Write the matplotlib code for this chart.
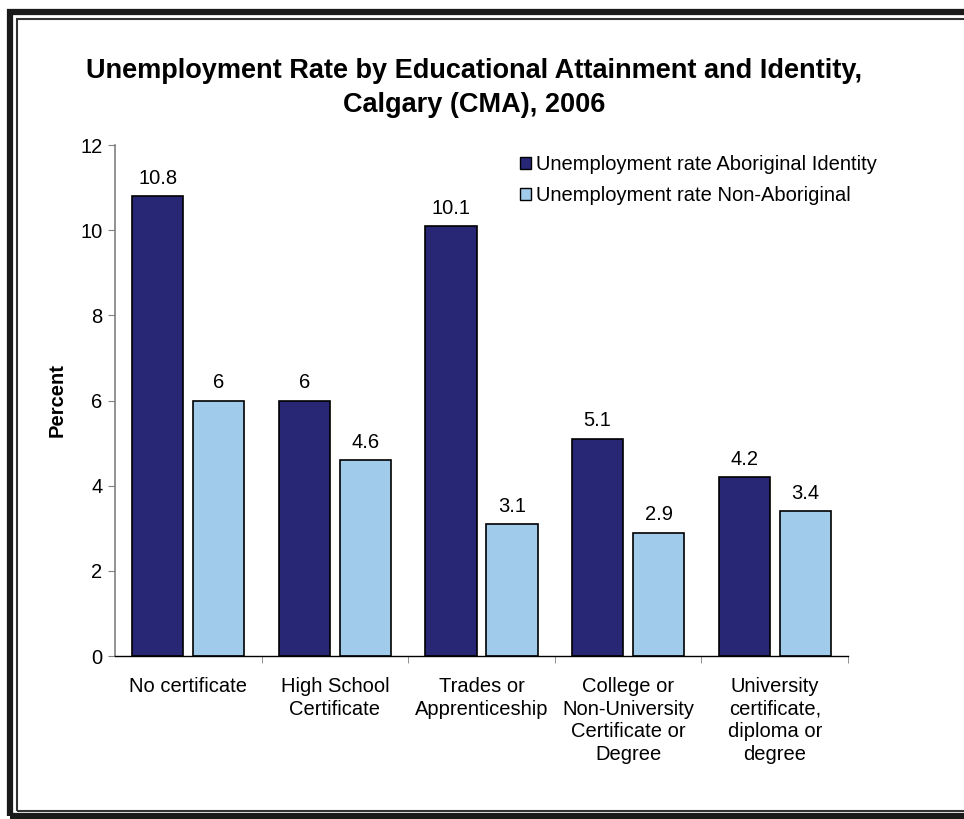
import matplotlib
matplotlib.use("Agg")
import matplotlib.pyplot as plt
import matplotlib.patches as mpatches
import numpy as np

# ===============================
#  DATA
# ===============================
categories = [
    "No certificate",
    "High School\nCertificate",
    "Trades or\nApprenticeship",
    "College or\nNon-University\nCertificate or\nDegree",
    "University\ncertificate,\ndiploma or\ndegree",
]
aboriginal = [10.8, 6, 10.1, 5.1, 4.2]
non_aboriginal = [6, 4.6, 3.1, 2.9, 3.4]
series_names = ["Unemployment rate Aboriginal Identity",
                "Unemployment rate Non-Aboriginal"]
y_ticks = [0, 2, 4, 6, 8, 10, 12]

# ===============================
#  STYLE
# ===============================
plt.rcParams['font.family'] = ['Liberation Sans', 'DejaVu Sans']
dark = "#272775"
light = "#A1CBEA"
spine_col = "#808080"
fs = 14.5

fig = plt.figure(figsize=(9.64, 8.19), dpi=100)
ax = fig.add_axes([115/964, 1 - 656/819, (848 - 115)/964, (656 - 145)/819])

x = np.arange(len(categories))
w = 0.348
off = 0.208

b1 = ax.bar(x - off, aboriginal, w, color=dark, edgecolor="black", linewidth=1.2)
b2 = ax.bar(x + off, non_aboriginal, w, color=light, edgecolor="black", linewidth=1.2)

for bars, vals in [(b1, aboriginal), (b2, non_aboriginal)]:
    for r, v in zip(bars, vals):
        ax.annotate(f"{v:g}", (r.get_x() + r.get_width()/2, v),
                    xytext=(0, 6), textcoords="offset points",
                    ha="center", va="bottom", fontsize=fs)

ax.set_xlim(-0.5, len(categories) - 0.5)
ax.set_ylim(0, 12)
ax.set_yticks(y_ticks)
ax.set_xticks(x)
ax.set_xticklabels(categories, fontsize=fs, linespacing=1.25)
ax.set_xticks(np.arange(len(categories)) + 0.5, minor=True)
ax.tick_params(axis="x", which="major", length=0, pad=15)
ax.tick_params(axis="x", which="minor", length=5, color=spine_col, direction="out")
ax.tick_params(axis="y", length=5, color=spine_col, labelsize=fs, pad=4)

for s in ["top", "right"]:
    ax.spines[s].set_visible(False)
ax.spines["left"].set_color(spine_col)
ax.spines["left"].set_linewidth(1.2)
ax.spines["bottom"].set_color("black")
ax.spines["bottom"].set_linewidth(1.0)

fig.text(57/964, 1 - 400/819, "Percent", rotation=90, ha="center", va="center",
         fontsize=fs, fontweight="bold")

fig.text(474/964, 1 - 88/819,
         "Unemployment Rate by Educational Attainment and Identity,\nCalgary (CMA), 2006",
         ha="center", va="center", fontsize=19.5, fontweight="bold", linespacing=1.35)

handles = [mpatches.Patch(facecolor=dark, edgecolor="black"),
           mpatches.Patch(facecolor=light, edgecolor="black")]
fig.legend(handles, series_names, loc="upper left",
           bbox_to_anchor=(520/964, 1 - 155/819), frameon=False, fontsize=fs,
           handlelength=0.55, handleheight=0.55, handletextpad=0.25, labelspacing=0.6,
           borderaxespad=0, borderpad=0)

# double frame round the chart
fig.patches.append(mpatches.Rectangle((10/964, 1 - 816/819), 1.0, (816 - 12)/819,
                                      transform=fig.transFigure, fill=False,
                                      edgecolor="#1a1a1a", linewidth=4.5))
fig.patches.append(mpatches.Rectangle((17/964, 1 - 811/819), 1.0, (811 - 19)/819,
                                      transform=fig.transFigure, fill=False,
                                      edgecolor="#333333", linewidth=1.5))

fig.savefig("out.png", dpi=100)
